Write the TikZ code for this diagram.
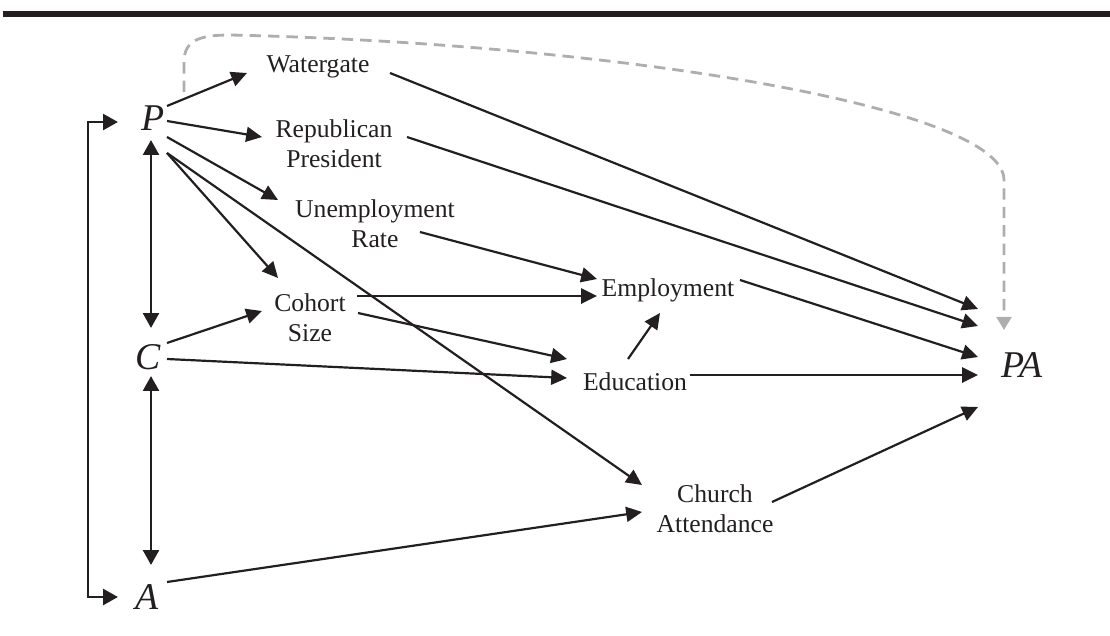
\documentclass[tikz,border=0pt]{standalone}
\usepackage{fontspec}
\setmainfont{Liberation Serif}
\usetikzlibrary{arrows.meta}
\definecolor{ink}{HTML}{231F20}
\definecolor{dashgray}{HTML}{AEAEAE}

\begin{document}
\begin{tikzpicture}[x=0.02cm, y=-0.02cm,
    lbl/.style={font=\fontsize{14.6}{17}\selectfont, align=center, inner sep=0pt, text=ink},
    var/.style={font=\fontsize{21.5}{24}\selectfont\itshape, inner sep=0pt, text=ink},
    arr/.style={-{Triangle[length=9pt,width=8.5pt]}, line width=1.25pt, draw=ink},
    dbl/.style={{Triangle[length=8.5pt,width=9pt]}-{Triangle[length=8.5pt,width=9pt]}, line width=1.6pt, draw=ink},
    dsh/.style={-{Triangle[length=7.5pt,width=8.5pt]}, line width=1.6pt, draw=dashgray, dash pattern=on 6.5pt off 4pt}]
    \useasboundingbox (0,0) rectangle (1110,636);
    \fill[ink] (3,11) rectangle (1110,16.5);
      \node[var] (p) at (153,118) {P};
      \node[var] (c) at (148,357) {C};
      \node[var] (a) at (147,597) {A};
      \node[lbl] (wg) at (318,67) {Watergate};
      \node[lbl] (rp) at (334,144) {Republican\\President};
      \node[lbl] (ur) at (375,224) {Unemployment\\Rate};
      \node[lbl] (cs) at (310,318) {Cohort\\Size};
      \node[lbl] (em) at (668,290) {Employment};
      \node[lbl] (ed) at (635,382) {Education};
      \node[lbl] (ch) at (715,509) {Church\\Attendance};
      \node[var] (pa) at (1022,365) {PA};
      \draw[arr] ([shift={(14,-12)}]p.center) -- ([shift={(-71,6)}]wg.center);
      \draw[arr] ([shift={(14,3)}]p.center) -- ([shift={(-72,-7)}]rp.center);
      \draw[arr] ([shift={(14,19)}]p.center) -- ([shift={(-97,-24)}]ur.center);
      \draw[arr] ([shift={(14,35)}]p.center) -- ([shift={(-32,-40)}]cs.center);
      \draw[arr] ([shift={(14,35)}]p.center) -- ([shift={(-73,-24)}]ch.center);
      \draw[dbl] ([shift={(-2,22)}]p.center) -- ([shift={(3,-29)}]c.center);
      \draw[dbl] ([shift={(3,19)}]c.center) -- ([shift={(4,-32)}]a.center);
      \draw[dbl] ([shift={(-35,4)}]p.center) -- ++(-30,0) |- ([shift={(-29,0)}]a.center);
      \draw[arr] ([shift={(19,-14)}]c.center) -- ([shift={(-48,-7)}]cs.center);
      \draw[arr] ([shift={(19,2)}]c.center) -- ([shift={(-68,-4)}]ed.center);
      \draw[arr] ([shift={(20,-15)}]a.center) -- ([shift={(-73,3)}]ch.center);
      \draw[arr] ([shift={(45,8)}]ur.center) -- ([shift={(-71,-11)}]em.center);
      \draw[arr, line width=1.7pt] ([shift={(47,-22)}]cs.center) -- ([shift={(-71,6)}]em.center);
      \draw[arr] ([shift={(48,-5)}]cs.center) -- ([shift={(-68,-23)}]ed.center);
      \draw[arr] ([shift={(-7,-23)}]ed.center) -- ([shift={(-8,23)}]em.center);
      \draw[arr, line width=1.7pt] ([shift={(55,-7)}]ed.center) -- ([shift={(-44,10)}]pa.center);
      \draw[arr] ([shift={(72,-10)}]em.center) -- ([shift={(-44,-8)}]pa.center);
      \draw[arr] ([shift={(72,6)}]wg.center) -- ([shift={(-44,-56)}]pa.center);
      \draw[arr] ([shift={(73,-7)}]rp.center) -- ([shift={(-44,-39)}]pa.center);
      \draw[arr] ([shift={(57,-7)}]ch.center) -- ([shift={(-44,42)}]pa.center);
      \draw[dsh] ([shift={(31,-26)}]p.center) -- (184,62) .. controls (184,40) and (200,35) .. (230,35)
        .. controls (600,43) and (1004,105) .. (1004,180) -- ([shift={(-18,-35)}]pa.center);
\end{tikzpicture}
\end{document}
